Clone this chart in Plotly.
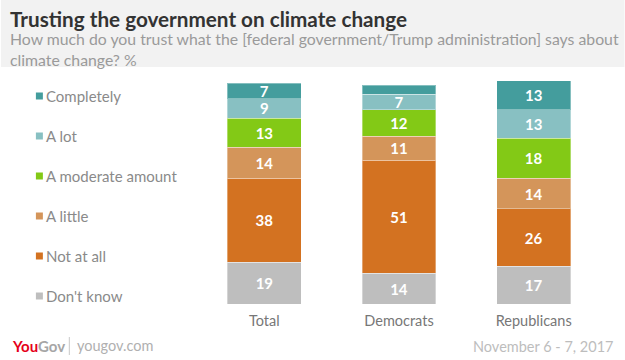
import plotly.graph_objects as go

groups = ["Total", "Democrats", "Republicans"]
responses = ["Don't know", "Not at all", "A little", "A moderate amount", "A lot", "Completely"]
dont_know = [19, 14, 17]
not_at_all = [38, 51, 26]
a_little = [14, 11, 14]
moderate = [13, 12, 18]
a_lot = [9, 7, 13]
completely = [7, 4, 13]
colors = ["#bebebe", "#d37221", "#d4955a", "#83c916", "#88c0c2", "#449d9d"]

series = [dont_know, not_at_all, a_little, moderate, a_lot, completely]

FONT = "Lato, 'Open Sans', sans-serif"

fig = go.Figure()
for name, vals, col in zip(responses, series, colors):
    fig.add_trace(go.Bar(
        x=groups, y=vals, name=name,
        marker=dict(color=col, line=dict(color="rgba(255,255,255,0.35)", width=1)),
        text=[str(v) if v >= 5 else "" for v in vals],
        textposition="inside", insidetextanchor="middle", textangle=0,
        constraintext="none",
        textfont=dict(color="white", size=15, family=FONT, weight="bold"),
        width=0.548, showlegend=False, hoverinfo="skip",
    ))

W, H = 625, 360
ml, mr, mt, mb = 196.5, 23.5, 72, 56
pw, ph = W - ml - mr, H - mt - mb

def px(xp):
    return (xp - ml) / pw

def py(yp):
    return (H - mb - yp) / ph

shapes = [dict(type="rect", xref="paper", yref="paper", x0=px(0), x1=px(W), y0=py(67), y1=py(0),
               fillcolor="#f2f2f2", line=dict(width=0), layer="below")]

annotations = []
legend_items = list(zip(responses, colors))[::-1]
for i, (name, col) in enumerate(legend_items):
    yc = 96 + 40 * i
    shapes.append(dict(type="rect", xref="paper", yref="paper",
                       x0=px(35), x1=px(42), y0=py(yc + 3.5), y1=py(yc - 3.5),
                       fillcolor=col, line=dict(width=0)))
    annotations.append(dict(text=name, xref="paper", yref="paper", x=px(43), y=py(yc),
                            xanchor="left", yanchor="middle", showarrow=False,
                            font=dict(size=15, color="#8a8a8a", family=FONT)))

annotations.append(dict(text="<b>Trusting the government on climate change</b>", xref="paper", yref="paper",
                        x=px(7), y=py(19), xanchor="left", yanchor="middle", showarrow=False,
                        font=dict(size=20.7, color="#333333", family=FONT)))
annotations.append(dict(text="How much do you trust what the [federal government/Trump administration] says about<br>climate change? %",
                        xref="paper", yref="paper", x=px(7), y=py(49), xanchor="left", yanchor="middle",
                        showarrow=False, align="left",
                        font=dict(size=15.8, color="#9a9a9a", family=FONT)))
annotations.append(dict(text="<b><span style='color:#e5001a'>You</span><span style='color:#a6a6a6'>Gov</span></b>",
                        xref="paper", yref="paper", x=px(9), y=py(346), xanchor="left", yanchor="middle",
                        showarrow=False, font=dict(size=15, family=FONT)))
shapes.append(dict(type="line", xref="paper", yref="paper", x0=px(68.5), x1=px(68.5), y0=py(337), y1=py(355),
                   line=dict(color="#c8c8c8", width=1)))
annotations.append(dict(text="yougov.com", xref="paper", yref="paper", x=px(74), y=py(345), xanchor="left",
                        yanchor="middle", showarrow=False, font=dict(size=14.5, color="#b0b0b0", family=FONT)))
annotations.append(dict(text="November 6 - 7, 2017", xref="paper", yref="paper", x=px(616), y=py(346),
                        xanchor="right", yanchor="middle", showarrow=False,
                        font=dict(size=14.5, color="#bdbdbd", family=FONT)))

fig.update_layout(
    barmode="stack", width=W, height=H,
    margin=dict(l=ml, r=mr, t=mt, b=mb, pad=0),
    paper_bgcolor="white", plot_bgcolor="white",
    xaxis=dict(range=[-0.5, 2.5], showgrid=False, zeroline=False, showline=False, ticks="",
               tickfont=dict(size=14.5, color="#777777", family=FONT), ticklabelstandoff=6),
    yaxis=dict(range=[0, 105], visible=False),
    shapes=shapes, annotations=annotations,
)

fig.write_html("out.html", config={"displayModeBar": False},
               post_script="document.body.style.margin='0';document.body.style.padding='0';")
